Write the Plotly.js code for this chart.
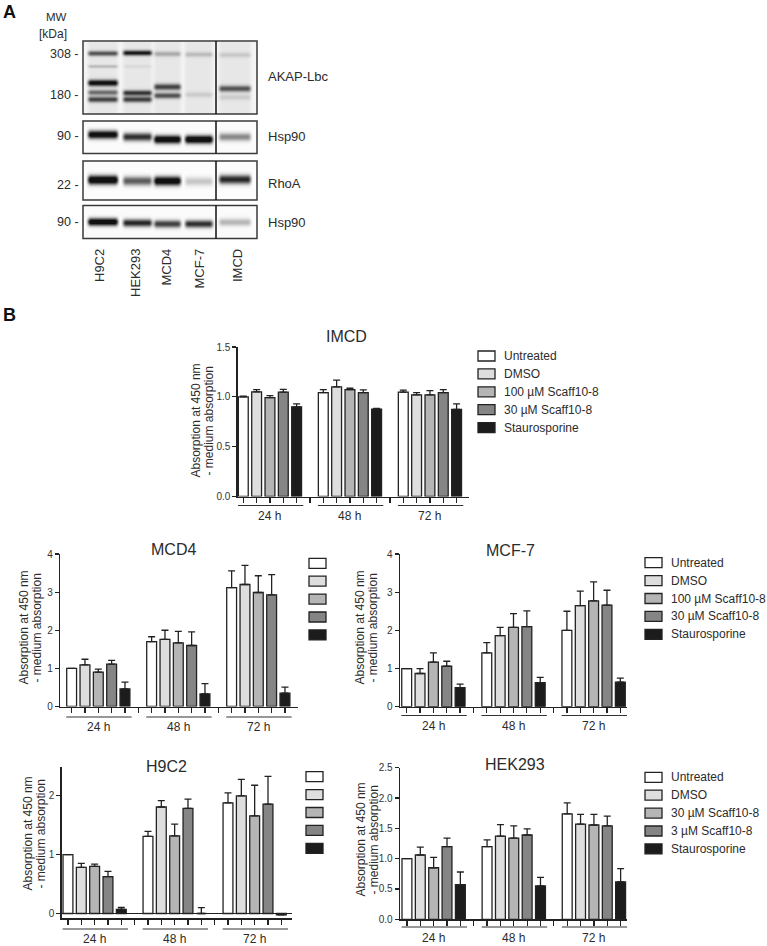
<!DOCTYPE html>
<html>
<head>
<meta charset="utf-8">
<script src="https://cdn.plot.ly/plotly-3.0.1.min.js"></script>
<style>html,body{margin:0;padding:0;background:#fff}#chart{width:767px;height:946px}</style>
</head>
<body>
<div id="chart"></div>
<script>
// ================= DATA =================
// Panel A: western blot lanes and band intensities (0 = none, 1 = saturated)
const lanes = ['H9C2', 'HEK293', 'MCD4', 'MCF-7', 'IMCD'];
const akap308   = [0.55, 0.80, 0.22, 0.16, 0.11];
const akapMinor = [0.16, 0.05, 0.00, 0.00, 0.00];
const akapUpper = [0.90, 0.00, 0.62, 0.00, 0.55];
const akapMid   = [0.45, 0.68, 0.00, 0.10, 0.00];
const akapLower = [0.62, 0.64, 0.56, 0.00, 0.10];
const hsp90Top  = [0.90, 0.68, 0.95, 0.97, 0.36];
const rhoA      = [1.00, 0.52, 0.95, 0.17, 0.72];
const hsp90Bot  = [0.95, 0.72, 0.62, 0.68, 0.22];
const mwTop = ['308', '180'];
const mwOther = ['90', '22', '90'];
const proteins = ['AKAP-Lbc', 'Hsp90', 'RhoA', 'Hsp90'];

// Panel B: proliferation assay
const groups = ['24 h', '48 h', '72 h'];
const treatments = ['Untreated', 'DMSO', '100 µM Scaff10-8', '30 µM Scaff10-8', 'Staurosporine'];
const treatmentsHEK = ['Untreated', 'DMSO', '30 µM Scaff10-8', '3 µM Scaff10-8', 'Staurosporine'];
const yTitle1 = 'Absorption at 450 nm';
const yTitle2 = '- medium absorption';

// each row = one treatment, values at 24 h, 48 h, 72 h
const imcdMean = [[1.00, 1.043, 1.047], [1.05, 1.10, 1.02], [0.993, 1.073, 1.02], [1.047, 1.043, 1.043], [0.90, 0.877, 0.873]];
const imcdErr  = [[0.008, 0.03, 0.02], [0.023, 0.067, 0.023], [0.02, 0.013, 0.043], [0.027, 0.027, 0.03], [0.03, 0.007, 0.057]];
const mcd4Mean = [[1.00, 1.70, 3.12], [1.09, 1.76, 3.20], [0.90, 1.67, 2.99], [1.11, 1.60, 2.93], [0.46, 0.33, 0.35]];
const mcd4Err  = [[0, 0.13, 0.44], [0.15, 0.24, 0.50], [0.08, 0.30, 0.44], [0.10, 0.36, 0.53], [0.18, 0.27, 0.16]];
const mcf7Mean = [[1.00, 1.41, 2.00], [0.87, 1.86, 2.65], [1.17, 2.08, 2.77], [1.06, 2.10, 2.66], [0.50, 0.63, 0.64]];
const mcf7Err  = [[0, 0.27, 0.50], [0.13, 0.22, 0.38], [0.24, 0.36, 0.50], [0.13, 0.41, 0.39], [0.09, 0.14, 0.11]];
const h9c2Mean = [[1.00, 1.31, 1.88], [0.785, 1.81, 2.00], [0.80, 1.32, 1.66], [0.627, 1.785, 1.86], [0.068, 0.0, -0.025]];
const h9c2Err  = [[0, 0.085, 0.17], [0.068, 0.11, 0.28], [0.04, 0.20, 0.52], [0.09, 0.16, 0.47], [0.034, 0.10, 0]];
const hekMean  = [[1.00, 1.20, 1.74], [1.06, 1.37, 1.57], [0.85, 1.34, 1.555], [1.20, 1.39, 1.54], [0.57, 0.55, 0.615]];
const hekErr   = [[0, 0.11, 0.18], [0.13, 0.19, 0.16], [0.17, 0.20, 0.175], [0.14, 0.10, 0.16], [0.21, 0.14, 0.22]];

// ================= STYLE / GEOMETRY =================
const W = 767, H = 946;
const FONT = 'Liberation Sans, Arial, Helvetica, sans-serif';
const TXT = '#2b2b2b';
const EDGE = '#222222';
const barColors = ['#ffffff', '#dedede', '#b5b5b5', '#858585', '#1c1c1c'];

const laneX = [[88, 118], [123, 152], [154, 181], [185, 213], [219, 251]];
const laneLabelX = [99.5, 135, 166, 198.5, 237.5];
const blotBox = {l: 83, r: 257, div: 216};
const blots = [
  {t: 41, b: 114, bg: 0.045, streak: 0.05, gain: 1.1, label: 76, rows: [
    {vals: akap308,   y: [53.5, 53, 54, 54.5, 55], s: 1.8},
    {vals: akapMinor, y: [66.5, 66.5, 0, 0, 0], s: 1.2},
    {vals: akapUpper, y: [83, 0, 87, 0, 88.7], s: 2.2},
    {vals: akapMid,   y: [92.5, 93, 0, 94.7, 0], s: 1.9},
    {vals: akapLower, y: [99.5, 99.5, 95.7, 0, 97.3], s: 2.0}
  ]},
  {t: 121, b: 153.5, bg: 0.015, streak: 0.0, gain: 1.25, label: 136, rows: [
    {vals: hsp90Top, y: [134.7, 137, 139.5, 139.5, 137], s: 2.8}
  ]},
  {t: 161, b: 200, bg: 0.01, streak: 0.0, gain: 1.25, label: 183, rows: [
    {vals: rhoA, y: [180, 181, 181, 181.5, 179.5], s: 3.1}
  ]},
  {t: 205.5, b: 238.5, bg: 0.015, streak: 0.0, gain: 1.25, label: 222, rows: [
    {vals: hsp90Bot, y: [222, 223, 224, 224, 222.3], s: 2.6}
  ]}
];
const mwPos = [53.7, 95, 135.5, 185, 222];

const charts = [
  {title: 'IMCD', mean: imcdMean, err: imcdErr, names: treatments, legText: true,
   box: {l: 237.7, r: 468.6, t: 347, b: 496.5}, xr: [-0.42, 16.9], yr: [0, 1.5], tv: [0, 0.5, 1, 1.5], fmt: '.1f',
   tpos: [346, 336], ytpos: [202, 421], underY: 505.5, labelY: 515.5, leg: [478, 356]},
  {title: 'MCD4', mean: mcd4Mean, err: mcd4Err, names: treatments, legText: false,
   box: {l: 60.3, r: 298.3, t: 554, b: 706.5}, xr: [-0.85, 17.0], yr: [0, 4], tv: [0, 1, 2, 3, 4], fmt: 'd',
   tpos: [173, 549], ytpos: [30, 628], underY: 717, labelY: 727, leg: [309, 563.3]},
  {title: 'MCF-7', mean: mcf7Mean, err: mcf7Err, names: treatments, legText: true,
   box: {l: 400, r: 627, t: 554, b: 706.7}, xr: [-0.5, 16.5], yr: [0, 4], tv: [0, 1, 2, 3, 4], fmt: 'd',
   tpos: [510, 550], ytpos: [366, 628], underY: 715.5, labelY: 726, leg: [645, 562.7]},
  {title: 'H9C2', mean: h9c2Mean, err: h9c2Err, names: treatments, legText: false,
   box: {l: 61.7, r: 292, t: 767, b: 918.3}, xr: [-0.47, 16.8], yr: [-0.082, 2.49], tv: [0, 1, 2], fmt: 'd', zero: true,
   tpos: [166, 766], ytpos: [34, 834], underY: 929, labelY: 938.5, leg: [306, 776.7]},
  {title: 'HEK293', mean: hekMean, err: hekErr, names: treatmentsHEK, legText: true,
   box: {l: 400, r: 627.3, t: 767.7, b: 919.3}, xr: [-0.52, 16.5], yr: [0, 2.5], tv: [0, 0.5, 1, 1.5, 2, 2.5], fmt: '.1f',
   tpos: [515, 764], ytpos: [367, 840], underY: 927, labelY: 937.5, leg: [645, 777.3]}
];
const legStep = 17.9, legW = 17, legH = 10;
const groupStride = 6;

// ================= BUILD =================
const traces = [];
const shapes = [];
const annotations = [];
const layout = {
  width: W, height: H,
  margin: {l: 0, r: 0, t: 0, b: 0, pad: 0},
  paper_bgcolor: '#ffffff', plot_bgcolor: 'rgba(0,0,0,0)',
  showlegend: false,
  font: {family: FONT, color: TXT, size: 12}
};

// overlay pixel axes for panel A and free-positioned text
layout.xaxis6 = {domain: [0, 1], range: [0, W], visible: false, fixedrange: true, anchor: 'y6'};
layout.yaxis6 = {domain: [0, 1], range: [H, 0], visible: false, fixedrange: true, anchor: 'x6'};

function pxAnn(text, x, y, opts) {
  annotations.push(Object.assign({text: text, x: x, y: y, xref: 'x6', yref: 'y6', showarrow: false,
    xanchor: 'center', yanchor: 'middle', font: {family: FONT, size: 12, color: TXT}}, opts || {}));
}

// ---- Panel A: blots ----
function ramp(u) { const t = Math.min(1, Math.max(0, u)); return t * t * (3 - 2 * t); }
function laneProfile(x, i) {
  const [x0, x1] = laneX[i];
  return ramp((x - x0 + 2.5) / 6) * ramp((x1 - x + 2.5) / 6);
}
blots.forEach(bl => {
  const xs = [], ys = [], z = [];
  for (let x = blotBox.l + 1; x < blotBox.r - 0.5; x++) xs.push(x + 0.5);
  for (let y = Math.ceil(bl.t) + 1; y < bl.b - 0.5; y++) ys.push(y + 0.5);
  ys.forEach(y => {
    z.push(xs.map(x => {
      let v = bl.bg;
      lanes.forEach((ln, i) => {
        const lp = laneProfile(x, i);
        v += bl.streak * lp;
        bl.rows.forEach(r => {
          const a = r.vals[i];
          if (!a) return;
          const dy = (y - r.y[i]) / r.s;
          v += bl.gain * a * lp * Math.exp(-0.5 * dy * dy);
        });
      });
      return Math.min(1, v);
    }));
  });
  traces.push({type: 'heatmap', x: xs, y: ys, z: z, xaxis: 'x6', yaxis: 'y6', zmin: 0, zmax: 1,
    colorscale: [[0, '#ffffff'], [0.5, '#808080'], [1, '#111111']], showscale: false, hoverinfo: 'skip', zsmooth: false});
  shapes.push({type: 'rect', xref: 'x6', yref: 'y6', x0: blotBox.l, x1: blotBox.r, y0: bl.t, y1: bl.b,
    line: {color: '#3a3a3a', width: 1.5}, fillcolor: 'rgba(0,0,0,0)'});
  shapes.push({type: 'line', xref: 'x6', yref: 'y6', x0: blotBox.div, x1: blotBox.div, y0: bl.t, y1: bl.b,
    line: {color: '#111111', width: 1.5}});
});
// MW labels
const mwAll = mwTop.concat(mwOther);
mwAll.forEach((m, i) => pxAnn(m + ' -', 81, mwPos[i], {xanchor: 'right', font: {family: FONT, size: 12.5, color: TXT}}));
proteins.forEach((p, i) => pxAnn(p, 266, blots[i].label, {xanchor: 'left', font: {family: FONT, size: 13, color: TXT}}));
lanes.forEach((ln, i) => pxAnn(ln, laneLabelX[i], 247, {textangle: -90, yanchor: 'top', font: {family: FONT, size: 13, color: TXT}}));
pxAnn('MW', 56, 17, {font: {family: FONT, size: 11.5, color: TXT}});
pxAnn('[kDa]', 52.5, 34, {font: {family: FONT, size: 12, color: TXT}});
pxAnn('<b>A</b>', 9, 12, {font: {family: FONT, size: 18, color: '#111'}});
pxAnn('<b>B</b>', 9, 315, {font: {family: FONT, size: 18, color: '#111'}});

// ---- Panel B: bar charts ----
const nPos = groups.length * groupStride - 1;
const tickPositions = [];
for (let p = 0; p < nPos; p++) tickPositions.push(p);

charts.forEach((c, ci) => {
  const id = ci + 1;
  const xa = id === 1 ? 'x' : 'x' + id;
  const ya = id === 1 ? 'y' : 'y' + id;
  const xk = id === 1 ? 'xaxis' : 'xaxis' + id;
  const yk = id === 1 ? 'yaxis' : 'yaxis' + id;
  layout[xk] = {
    domain: [c.box.l / W, c.box.r / W], range: c.xr, anchor: ya,
    showline: true, linecolor: EDGE, linewidth: 1.4, ticks: 'outside', ticklen: 5, tickwidth: 1.2, tickcolor: EDGE,
    tickmode: 'array', tickvals: tickPositions, showticklabels: false, showgrid: false, zeroline: false, fixedrange: true
  };
  layout[yk] = {
    domain: [1 - c.box.b / H, 1 - c.box.t / H], range: c.yr, anchor: xa,
    showline: true, linecolor: EDGE, linewidth: 1.4, ticks: 'outside', ticklen: 4, tickwidth: 1.2, tickcolor: EDGE,
    tickmode: 'array', tickvals: c.tv, tickformat: c.fmt, tickfont: {family: FONT, size: 10, color: '#333'},
    showgrid: false, zeroline: !!c.zero, zerolinecolor: EDGE, zerolinewidth: 1.3, fixedrange: true
  };
  c.names.forEach((nm, t) => {
    traces.push({
      type: 'bar', name: nm, xaxis: xa, yaxis: ya,
      x: groups.map((g, gi) => gi * groupStride + t),
      y: c.mean[t], width: 0.74,
      marker: {color: barColors[t], line: {color: EDGE, width: 1.3}},
      error_y: {type: 'data', symmetric: false, array: c.err[t], arrayminus: c.err[t].map(() => 0),
        color: EDGE, thickness: 1.3, width: 3.5},
      hoverinfo: 'skip'
    });
    // legend swatch
    const ly = c.leg[1] + t * legStep;
    shapes.push({type: 'rect', xref: 'x6', yref: 'y6', x0: c.leg[0], x1: c.leg[0] + legW, y0: ly - legH / 2, y1: ly + legH / 2,
      fillcolor: barColors[t], line: {color: EDGE, width: 1.3}});
    if (c.legText) pxAnn(nm, c.leg[0] + legW + 7, ly, {xanchor: 'left', font: {family: FONT, size: 12, color: TXT}});
  });
  // group underlines and labels
  groups.forEach((g, gi) => {
    const s = gi * groupStride;
    shapes.push({type: 'line', xref: xa, yref: 'y6', x0: s - 0.4, x1: s + 4.5, y0: c.underY, y1: c.underY,
      line: {color: '#333', width: 1.2}});
    annotations.push({text: g, x: s + 2, y: c.labelY, xref: xa, yref: 'y6', showarrow: false,
      xanchor: 'center', yanchor: 'middle', font: {family: FONT, size: 12, color: TXT}});
  });
  // titles
  pxAnn(c.title, c.tpos[0], c.tpos[1], {font: {family: FONT, size: 16, color: TXT}});
  pxAnn(yTitle1, c.ytpos[0] - 6.5, c.ytpos[1], {textangle: -90, font: {family: FONT, size: 12, color: TXT}});
  pxAnn(yTitle2, c.ytpos[0] + 6.5, c.ytpos[1], {textangle: -90, font: {family: FONT, size: 12, color: TXT}});
});

layout.shapes = shapes;
layout.annotations = annotations;
layout.barmode = 'overlay';

Plotly.newPlot('chart', traces, layout, {staticPlot: true, displayModeBar: false});
</script>
</body>
</html>
